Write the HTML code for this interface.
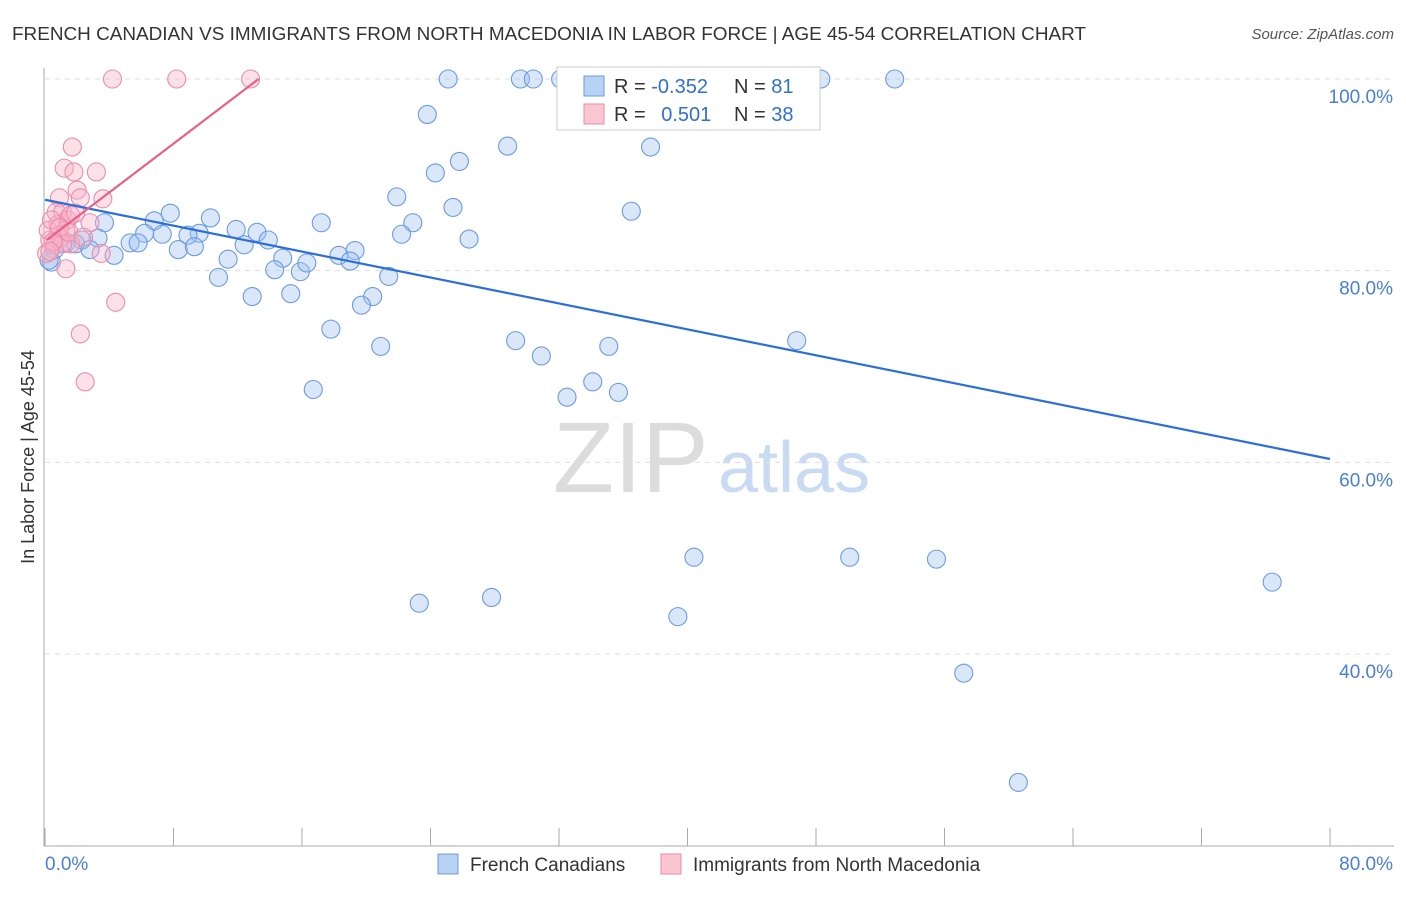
<!DOCTYPE html>
<html><head><meta charset="utf-8"><style>
body{margin:0;background:#fff;font-family:"Liberation Sans",sans-serif;}
svg text{font-family:"Liberation Sans",sans-serif;}
</style></head><body>
<svg id="chart" width="1406" height="892" viewBox="0 0 1406 892" xmlns="http://www.w3.org/2000/svg">
<text x="12" y="40" font-size="18" fill="#333" textLength="1074" lengthAdjust="spacingAndGlyphs">FRENCH CANADIAN VS IMMIGRANTS FROM NORTH MACEDONIA IN LABOR FORCE | AGE 45-54 CORRELATION CHART</text>
<text x="1394" y="39" font-size="15" fill="#555" text-anchor="end" font-style="italic">Source: ZipAtlas.com</text>
<g>
<text x="553" y="492" font-size="100" fill="#dcdcdc" font-family="Liberation Serif, serif">ZIP</text>
<text x="718" y="492" font-size="72" fill="#c8dbf3">atlas</text>
</g>
<g id="grid"></g><g id="axes"></g><g id="pts"></g><g id="lines"></g>
<g>
<rect x="557" y="67" width="263" height="63" fill="#fff" stroke="#ccc"/>
<rect x="584" y="76" width="20" height="20" fill="#b8d2f3" stroke="#6b9be0"/>
<rect x="584" y="104" width="20" height="20" fill="#fbc6d4" stroke="#ec8aa8"/>
<text x="614" y="93" font-size="20" fill="#333">R = <tspan fill="#2f6fd6">-0.352</tspan></text>
<text x="734" y="93" font-size="20" fill="#333">N = <tspan fill="#2f6fd6">81</tspan></text>
<text x="614" y="121" font-size="20" fill="#333">R = <tspan fill="#2f6fd6" dx="10">0.501</tspan></text>
<text x="734" y="121" font-size="20" fill="#333">N = <tspan fill="#2f6fd6">38</tspan></text>
</g>
<g>
<rect x="438" y="854" width="20" height="20" fill="#b8d2f3" stroke="#6b9be0"/>
<text x="470" y="871" font-size="19" fill="#333">French Canadians</text>
<rect x="661" y="854" width="20" height="20" fill="#fbc6d4" stroke="#ec8aa8"/>
<text x="693" y="871" font-size="19" fill="#333">Immigrants from North Macedonia</text>
</g>
<text x="34" y="457" font-size="18" fill="#333" text-anchor="middle" transform="rotate(-90 34 457)">In Labor Force | Age 45-54</text>
</svg>
<script>
const yTicks=[100,80,60,40];
const yTickLabels=["100.0%","80.0%","60.0%","40.0%"];
const xTicks=[0,8,16,24,32,40,48,56,64,72,80];
const xEndLabels=["0.0%","80.0%"];
const blueX=[25.1,29.6,30.4,32.1,33.0,36.5,44.5,48.3,52.9,23.8,28.8,37.7,24.3,25.8,21.9,25.4,36.5,22.9,22.2,26.4,17.2,19.3,18.3,19.0,21.4,20.4,19.7,17.8,16.7,20.9,29.3,30.9,35.1,34.1,32.5,35.7,46.8,40.4,50.1,55.5,76.4,23.3,27.8,39.4,57.2,60.6,3.7,6.8,7.8,10.3,11.9,13.2,13.9,12.4,9.6,8.9,7.3,6.2,5.3,5.8,4.3,3.3,2.3,1.3,1.9,2.8,0.6,0.4,8.3,9.3,11.4,10.8,12.9,14.8,14.3,15.9,16.3,15.3,0.25];
const blueY=[100,100,100,100,100,100,100,100,100,96.3,93.0,92.9,90.2,91.4,87.7,86.6,86.2,85.0,83.8,83.3,85.0,82.1,81.6,81.0,79.4,77.3,76.4,73.9,67.6,72.1,72.7,71.1,72.1,68.4,66.8,67.3,72.7,50.1,50.1,49.9,47.5,45.3,45.9,43.9,38.0,26.6,85.0,85.2,86.0,85.5,84.3,84.0,83.2,82.7,83.9,83.7,83.8,83.9,82.9,82.9,81.6,83.4,83.2,82.9,82.8,82.2,82.2,80.9,82.2,82.5,81.2,79.3,77.3,81.3,80.1,79.9,80.8,77.6,81.1];
const pinkX=[4.2,8.2,12.8,1.7,1.2,1.8,3.2,2.0,3.6,2.2,0.9,0.7,1.1,1.4,0.8,1.3,0.8,0.3,0.6,1.0,1.6,0.1,1.3,3.5,4.4,2.2,2.5,1.1,0.2,0.4,1.6,0.9,2.8,0.5,1.9,0.3,1.5,2.4];
const pinkY=[100,100,100,92.9,90.7,90.3,90.3,88.4,87.5,87.6,87.6,86.1,86.1,85.3,84.8,84.2,83.7,83.2,82.7,83.4,82.8,81.8,80.2,81.8,76.7,73.4,68.4,82.8,84.2,85.3,85.8,84.5,85.0,83.0,86.0,82.0,84.0,83.5];
const blueTrend=[[0,87.4],[80,60.35]];
const pinkTrend=[[0.1,83.2],[13.3,100]];
const NS="http://www.w3.org/2000/svg";
const X=v=>45+v*1285/80, Y=v=>79+(100-v)*191.67/20;
function mk(t,a,p){const e=document.createElementNS(NS,t);for(const k in a)e.setAttribute(k,a[k]);p.appendChild(e);return e;}
const grid=document.getElementById('grid'),axes=document.getElementById('axes'),pts=document.getElementById('pts'),lines=document.getElementById('lines');
yTicks.forEach((v,i)=>{
 const l=mk('line',{x1:45,x2:1394,y1:Y(v),y2:Y(v),stroke:'#ddd','stroke-dasharray':'5,5'},grid);
 
 
 const t=mk('text',{x:1393,y:Y(v)+24,'font-size':19,fill:'#4a7fd4','text-anchor':'end'},axes);
 t.textContent=yTickLabels[i];
 
 
});
const ax=mk('line',{x1:44,x2:44,y1:68,y2:846,stroke:'#aaa'},axes);


const bx=mk('line',{x1:44,x2:1394,y1:846,y2:846,stroke:'#aaa'},axes);


xTicks.forEach(v=>{
 const t=mk('line',{x1:X(v),x2:X(v),y1:828,y2:846,stroke:'#aaa'},axes);
 
 
});
const xl0=mk('text',{x:45,y:870,'font-size':19,fill:'#4a7fd4'},axes);xl0.textContent=xEndLabels[0];


const xl1=mk('text',{x:1393,y:870,'font-size':19,fill:'#4a7fd4','text-anchor':'end'},axes);xl1.textContent=xEndLabels[1];


blueX.forEach((v,i)=>{
 const c=mk('circle',{cx:X(v),cy:Y(blueY[i]),r:9,fill:'rgba(160,196,240,0.4)',stroke:'#6b9be0','stroke-width':1.1},pts);
 
 
});
pinkX.forEach((v,i)=>{
 const c=mk('circle',{cx:X(v),cy:Y(pinkY[i]),r:9,fill:'rgba(248,180,200,0.4)',stroke:'#ec8cab','stroke-width':1.1},pts);
 
 
});
const bl=mk('line',{x1:X(blueTrend[0][0]),y1:Y(blueTrend[0][1]),x2:X(blueTrend[1][0]),y2:Y(blueTrend[1][1]),stroke:'#2c6fd8','stroke-width':2.2},lines);


const pl=mk('line',{x1:X(pinkTrend[0][0]),y1:Y(pinkTrend[0][1]),x2:X(pinkTrend[1][0]),y2:Y(pinkTrend[1][1]),stroke:'#e8608a','stroke-width':2.2},lines);


</script>
</body></html>
